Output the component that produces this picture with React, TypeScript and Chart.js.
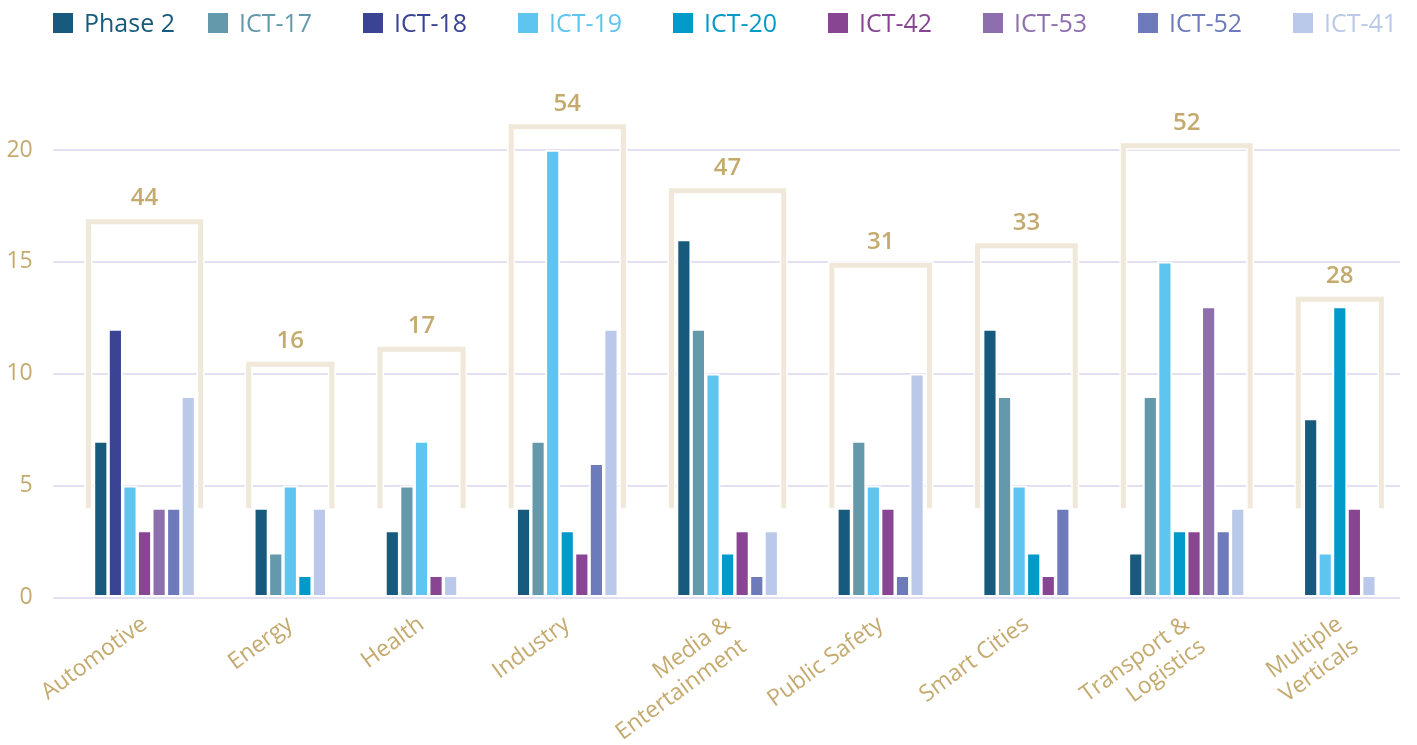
import React, { useEffect, useRef } from "react";
import { Chart, registerables } from "chart.js";

Chart.register(...registerables);

// ---- data ----
const categories: string[][] = [
  ["Automotive"],
  ["Energy"],
  ["Health"],
  ["Industry"],
  ["Media &", "Entertainment"],
  ["Public Safety"],
  ["Smart Cities"],
  ["Transport &", "Logistics"],
  ["Multiple", "Verticals"],
];

const seriesNames = ["Phase 2", "ICT-17", "ICT-18", "ICT-19", "ICT-20", "ICT-42", "ICT-53", "ICT-52", "ICT-41"];
const seriesColors = ["#175a7e", "#6399aa", "#3a4394", "#5ec4f0", "#029ac9", "#874592", "#8e6fae", "#6e7bba", "#bac9ea"];

const phase2 = [7, 4, 3, 4, 16, 4, 12, 2, 8];
const ict17 = [null, 2, 5, 7, 12, 7, 9, 9, null];
const ict18 = [12, null, null, null, null, null, null, null, null];
const ict19 = [5, 5, 7, 20, 10, 5, 5, 15, 2];
const ict20 = [null, 1, null, 3, 2, null, 2, 3, 13];
const ict42 = [3, null, 1, 2, 3, 4, 1, 3, 4];
const ict53 = [4, null, null, null, null, null, null, 13, null];
const ict52 = [4, null, null, 6, 1, 1, 4, 3, null];
const ict41 = [9, 4, 1, 12, 3, 10, null, 4, 1];

const seriesValues: (number | null)[][] = [phase2, ict17, ict18, ict19, ict20, ict42, ict53, ict52, ict41];

// heights (in y units) of the bracket tops
const bracketTops = [16.8, 10.43, 11.1, 21.04, 18.18, 14.85, 15.72, 20.19, 13.33];
const bracketBase = 4;

const yMin = 0;
const yMax = 20;
const yStep = 5;

// ---- layout helpers (slots on a linear index axis) ----
const GAP_SLOTS = 4;
const X_MIN = -3.3;
const X_MAX = 89.13;
const BRACKET_PAD = 0.85;

const slotX: (number | null)[][] = seriesValues.map(() => []);
const groupCenters: number[] = [];
const groupRanges: [number, number][] = [];
const totals: number[] = [];
(() => {
  let cursor = 0;
  categories.forEach((_, c) => {
    const present: number[] = [];
    seriesValues.forEach((s, si) => {
      if (s[c] != null) present.push(si);
    });
    present.forEach((si, j) => {
      slotX[si][c] = cursor + j;
    });
    groupCenters.push(cursor + (present.length - 1) / 2);
    groupRanges.push([cursor, cursor + present.length - 1]);
    totals.push(present.reduce((a, si) => a + (seriesValues[si][c] as number), 0));
    cursor += present.length + GAP_SLOTS;
  });
})();

const TAN = "#c4aa6e";
const FONT = "'Open Sans', sans-serif";

const bracketPlugin = {
  id: "brackets",
  afterDatasetsDraw(chart: any) {
    const { ctx } = chart;
    const xs = chart.scales.x;
    const ys = chart.scales.y;
    ctx.save();
    groupRanges.forEach(([a, b], c) => {
      const xl = xs.getPixelForValue(a - BRACKET_PAD);
      const xr = xs.getPixelForValue(b + BRACKET_PAD);
      const yt = ys.getPixelForValue(bracketTops[c]);
      const yb = ys.getPixelForValue(bracketBase);
      ctx.lineJoin = "miter";
      ctx.lineCap = "butt";
      ctx.beginPath();
      ctx.moveTo(xl, yb);
      ctx.lineTo(xl, yt);
      ctx.lineTo(xr, yt);
      ctx.lineTo(xr, yb);
      ctx.strokeStyle = "#ffffff";
      ctx.lineWidth = 8;
      ctx.stroke();
      ctx.strokeStyle = "#f0e8d8";
      ctx.lineWidth = 5;
      ctx.stroke();
      ctx.fillStyle = TAN;
      ctx.font = `600 24px ${FONT}`;
      ctx.textAlign = "center";
      ctx.textBaseline = "middle";
      ctx.fillText(String(totals[c]), (xl + xr) / 2, yt - 23);
    });
    ctx.restore();
  },
};

const W = 1417;
const H = 745;

export default function App() {
  const ref = useRef<HTMLCanvasElement>(null);
  useEffect(() => {
    if (!ref.current) return;
    const datasets = seriesNames.map((name, si) => ({
      label: name,
      data: seriesValues[si]
        .map((v, c) => (v == null ? null : { x: slotX[si][c] as number, y: v }))
        .filter((p) => p !== null) as { x: number; y: number }[],
      backgroundColor: seriesColors[si],
      borderColor: "#ffffff",
      borderWidth: 2,
      borderSkipped: false as const,
      barThickness: 14.5,
      grouped: false,
    }));
    const chart = new Chart(ref.current, {
      type: "bar",
      data: { datasets },
      options: {
        animation: false,
        responsive: false,
        devicePixelRatio: 1,
        layout: { padding: { top: 150, right: 17, left: 0, bottom: 0 } },
        plugins: {
          legend: { display: false },
          tooltip: { enabled: false },
        },
        scales: {
          x: {
            type: "linear",
            offset: false,
            min: X_MIN,
            max: X_MAX,
            grid: { display: false, offset: false },
            border: { display: false },
            afterBuildTicks: (s: any) => {
              s.ticks = groupCenters.map((v) => ({ value: v }));
            },
            afterFit: (s: any) => {
              s.height = 147.3;
            },
            ticks: {
              autoSkip: false,
              maxRotation: 36,
              minRotation: 36,
              color: TAN,
              padding: 5,
              font: { family: FONT, size: 23 },
              callback: (_v: any, i: number) => categories[i],
            },
          },
          y: {
            min: yMin,
            max: yMax,
            border: { display: false },
            grid: { color: "#e3e0f1", lineWidth: 2, drawTicks: false },
            afterFit: (s: any) => {
              s.width = 52.7;
            },
            ticks: {
              stepSize: yStep,
              color: TAN,
              padding: 20,
              font: { family: FONT, size: 23 },
            },
          },
        },
      },
      plugins: [bracketPlugin],
    } as any);
    return () => chart.destroy();
  }, []);

  return (
    <div style={{ position: "absolute", left: 0, top: 0, width: W, height: H, overflow: "hidden", background: "#fff" }}>
      <canvas ref={ref} width={W} height={H} style={{ display: "block" }} />
      <div style={{ position: "absolute", top: 10, left: 53, display: "flex" }}>
        {seriesNames.map((n, i) => (
          <div key={n} style={{ width: 155, display: "flex", alignItems: "center", height: 25 }}>
            <span style={{ width: 20, height: 20, background: seriesColors[i], display: "inline-block", flex: "none" }} />
            <span style={{ marginLeft: 11, color: seriesColors[i], fontFamily: FONT, fontSize: 25, lineHeight: "25px", whiteSpace: "nowrap" }}>{n}</span>
          </div>
        ))}
      </div>
    </div>
  );
}
